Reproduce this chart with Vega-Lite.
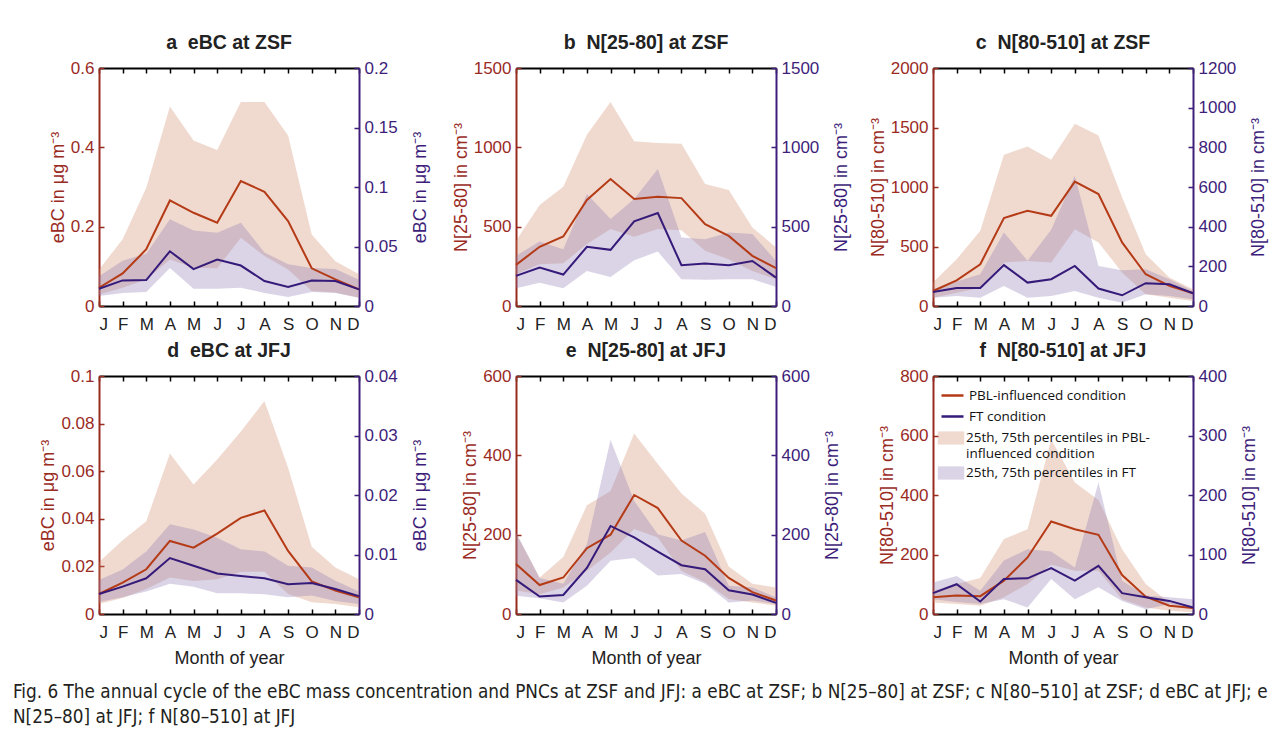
{
"$schema": "https://vega.github.io/schema/vega-lite/v6.json",
"padding": {"left": 12, "top": 32, "right": 5, "bottom": 5},
"config": {
 "font": "Liberation Sans",
 "view": {"stroke": null},
 "axis": {"labelFontSize": 17, "titleFontSize": 18, "titleFontWeight": "normal", "grid": false, "domainWidth": 2, "tickWidth": 1.5, "tickSize": -5, "labelPadding": 10, "titlePadding": 3},
 "axisBottom": {"labelPadding": 15, "titlePadding": 9},
 "axisRight": {"titlePadding": 14},
 "title": {"fontSize": 19.5, "fontWeight": "bold", "color": "#222222", "offset": 6},
 "legend": {"orient": "top-left", "offset": 7, "padding": 0, "labelFont": "Open Sans", "labelFontSize": 13.5, "labelColor": "#111111", "title": null, "rowPadding": 2, "labelLimit": 400, "layout": {"top-left": {"direction": "vertical", "margin": 4}}}
},
"title": {"text": ["Fig. 6  The annual cycle of the eBC mass concentration and PNCs at ZSF and JFJ: a eBC at ZSF; b N[25–80] at ZSF; c N[80–510] at ZSF; d eBC at JFJ; e", "N[25–80] at JFJ; f N[80–510] at JFJ"], "orient": "bottom", "anchor": "start", "frame": "bounds", "font": "DejaVu Sans Condensed", "fontSize": 18.8, "fontWeight": "normal", "color": "#231F20", "dx": -27, "offset": 16, "lineHeight": 25},
"datasets": {
 "a": [
  {"m":1,"p":0.046,"pl":0.029,"ph":0.092,"f":0.0145,"fl":0.0085,"fh":0.025},
  {"m":2,"p":0.082,"pl":0.046,"ph":0.168,"f":0.0215,"fl":0.011,"fh":0.038},
  {"m":3,"p":0.143,"pl":0.067,"ph":0.298,"f":0.0218,"fl":0.0117,"fh":0.044},
  {"m":4,"p":0.266,"pl":0.117,"ph":0.503,"f":0.046,"fl":0.032,"fh":0.073},
  {"m":5,"p":0.235,"pl":0.0965,"ph":0.417,"f":0.031,"fl":0.0145,"fh":0.0635},
  {"m":6,"p":0.21,"pl":0.095,"ph":0.393,"f":0.039,"fl":0.0145,"fh":0.0615},
  {"m":7,"p":0.315,"pl":0.172,"ph":0.514,"f":0.034,"fl":0.0154,"fh":0.07},
  {"m":8,"p":0.288,"pl":0.126,"ph":0.514,"f":0.021,"fl":0.011,"fh":0.045},
  {"m":9,"p":0.214,"pl":0.092,"ph":0.43,"f":0.016,"fl":0.0075,"fh":0.035},
  {"m":10,"p":0.095,"pl":0.038,"ph":0.18,"f":0.0215,"fl":0.0117,"fh":0.032},
  {"m":11,"p":0.067,"pl":0.034,"ph":0.113,"f":0.021,"fl":0.011,"fh":0.031},
  {"m":12,"p":0.042,"pl":0.021,"ph":0.08,"f":0.014,"fl":0.007,"fh":0.022}
 ],
 "b": [
  {"m":1,"p":259,"pl":200,"ph":411,"f":190,"fl":112,"fh":316},
  {"m":2,"p":373,"pl":263,"ph":636,"f":242,"fl":147,"fh":407},
  {"m":3,"p":438,"pl":270,"ph":752,"f":198,"fl":112,"fh":358},
  {"m":4,"p":668,"pl":390,"ph":1079,"f":373,"fl":221,"fh":706},
  {"m":5,"p":800,"pl":485,"ph":1285,"f":354,"fl":183,"fh":548},
  {"m":6,"p":674,"pl":436,"ph":1039,"f":533,"fl":289,"fh":674},
  {"m":7,"p":689,"pl":485,"ph":1028,"f":586,"fl":343,"fh":864},
  {"m":8,"p":680,"pl":478,"ph":1022,"f":257,"fl":169,"fh":432},
  {"m":9,"p":516,"pl":348,"ph":769,"f":268,"fl":166,"fh":421},
  {"m":10,"p":442,"pl":295,"ph":731,"f":257,"fl":169,"fh":463},
  {"m":11,"p":316,"pl":221,"ph":495,"f":284,"fl":169,"fh":453},
  {"m":12,"p":238,"pl":169,"ph":369,"f":179,"fl":120,"fh":284}
 ],
 "c": [
  {"m":1,"p":126,"pl":70,"ph":197,"f":71,"fl":42,"fh":84},
  {"m":2,"p":216,"pl":112,"ph":393,"f":91,"fl":51,"fh":123},
  {"m":3,"p":351,"pl":154,"ph":632,"f":91,"fl":42,"fh":160},
  {"m":4,"p":739,"pl":365,"ph":1272,"f":206,"fl":101,"fh":371},
  {"m":5,"p":801,"pl":379,"ph":1340,"f":118,"fl":42,"fh":228},
  {"m":6,"p":758,"pl":365,"ph":1228,"f":135,"fl":51,"fh":384},
  {"m":7,"p":1045,"pl":646,"ph":1531,"f":202,"fl":76,"fh":657},
  {"m":8,"p":941,"pl":534,"ph":1433,"f":88,"fl":42,"fh":202},
  {"m":9,"p":534,"pl":281,"ph":913,"f":54,"fl":17,"fh":180},
  {"m":10,"p":267,"pl":98,"ph":435,"f":115,"fl":59,"fh":185},
  {"m":11,"p":169,"pl":70,"ph":239,"f":110,"fl":51,"fh":135},
  {"m":12,"p":107,"pl":42,"ph":140,"f":64,"fl":34,"fh":76}
 ],
 "d": [
  {"m":1,"p":0.0084,"pl":0.0042,"ph":0.0219,"f":0.00335,"fl":0.002,"fh":0.0057},
  {"m":2,"p":0.0132,"pl":0.0067,"ph":0.031,"f":0.0046,"fl":0.0028,"fh":0.0075},
  {"m":3,"p":0.0188,"pl":0.0105,"ph":0.039,"f":0.006,"fl":0.0038,"fh":0.0105},
  {"m":4,"p":0.0307,"pl":0.0153,"ph":0.0674,"f":0.0094,"fl":0.0051,"fh":0.0151},
  {"m":5,"p":0.0279,"pl":0.0139,"ph":0.0544,"f":0.0081,"fl":0.0046,"fh":0.0142},
  {"m":6,"p":0.0338,"pl":0.0146,"ph":0.0649,"f":0.0068,"fl":0.0035,"fh":0.0128},
  {"m":7,"p":0.0404,"pl":0.0178,"ph":0.0767,"f":0.0064,"fl":0.0035,"fh":0.0109},
  {"m":8,"p":0.0435,"pl":0.0178,"ph":0.0895,"f":0.006,"fl":0.0033,"fh":0.0105},
  {"m":9,"p":0.0265,"pl":0.0084,"ph":0.0614,"f":0.005,"fl":0.0028,"fh":0.0081},
  {"m":10,"p":0.0137,"pl":0.0049,"ph":0.0283,"f":0.0052,"fl":0.0031,"fh":0.0078},
  {"m":11,"p":0.0098,"pl":0.0042,"ph":0.0195,"f":0.0042,"fl":0.0022,"fh":0.0056},
  {"m":12,"p":0.007,"pl":0.0028,"ph":0.0146,"f":0.003,"fl":0.0017,"fh":0.0038}
 ],
 "e": [
  {"m":1,"p":126,"pl":59,"ph":203,"f":86,"fl":46,"fh":206},
  {"m":2,"p":73,"pl":50,"ph":92,"f":44,"fl":40,"fh":91},
  {"m":3,"p":92,"pl":67,"ph":144,"f":48,"fl":29,"fh":76},
  {"m":4,"p":166,"pl":109,"ph":274,"f":116,"fl":71,"fh":176},
  {"m":5,"p":200,"pl":155,"ph":310,"f":222,"fl":134,"fh":439},
  {"m":6,"p":300,"pl":214,"ph":455,"f":193,"fl":141,"fh":285},
  {"m":7,"p":267,"pl":193,"ph":378,"f":157,"fl":97,"fh":201},
  {"m":8,"p":185,"pl":109,"ph":304,"f":123,"fl":101,"fh":185},
  {"m":9,"p":147,"pl":80,"ph":253,"f":113,"fl":76,"fh":207},
  {"m":10,"p":91,"pl":38,"ph":120,"f":60,"fl":29,"fh":71},
  {"m":11,"p":55,"pl":29,"ph":76,"f":49,"fl":34,"fh":67},
  {"m":12,"p":34,"pl":21,"ph":67,"f":28,"fl":25,"fh":42}
 ],
 "f": [
  {"m":1,"p":56,"pl":39,"ph":78,"f":35,"fl":25,"fh":53},
  {"m":2,"p":62,"pl":34,"ph":101,"f":50,"fl":20,"fh":64},
  {"m":3,"p":60,"pl":28,"ph":121,"f":21,"fl":17,"fh":39},
  {"m":4,"p":112,"pl":56,"ph":252,"f":59,"fl":25,"fh":90},
  {"m":5,"p":190,"pl":101,"ph":285,"f":60,"fl":11,"fh":109},
  {"m":6,"p":311,"pl":166,"ph":587,"f":77,"fl":59,"fh":105},
  {"m":7,"p":285,"pl":145,"ph":442,"f":56,"fl":25,"fh":78},
  {"m":8,"p":266,"pl":145,"ph":383,"f":81,"fl":45,"fh":221},
  {"m":9,"p":131,"pl":50,"ph":218,"f":35,"fl":22,"fh":56},
  {"m":10,"p":58,"pl":22,"ph":101,"f":28,"fl":8,"fh":31},
  {"m":11,"p":28,"pl":11,"ph":39,"f":22,"fl":17,"fh":28},
  {"m":12,"p":20,"pl":6,"ph":22,"f":11,"fl":8,"fh":25}
 ]
},
"bounds": "flush",
"columns": 3,
"spacing": {"row": 70, "column": 157},
"resolve": {"scale": {"color": "independent", "fill": "independent"}},
"concat": [
  {"width": 260, "height": 238, "title": "a\u00a0\u00a0eBC at ZSF", "data": {"name": "a"},
   "layer": [
    {"mark": {"type": "area", "color": "#CD8462", "opacity": 0.3}, "encoding": {
      "x": {"field": "m", "type": "quantitative", "scale": {"domain": [1, 12], "nice": false, "zero": false}, "axis": {"orient": "bottom", "values": [1,2,3,4,5,6,7,8,9,10,11,12], "labelExpr": "['J','F','M','A','M','J','J','A','S','O','N','D'][datum.value-1]", "domainColor": "black", "tickColor": "black", "labelColor": "#222222", "title": null}},
      "y": {"field": "pl", "type": "quantitative", "scale": {"domain": [0, 0.6], "nice": false}, "axis": {"orient": "left", "values": [0, 0.2, 0.4, 0.6], "format": "~r", "domainColor": "#9A2B1F", "tickColor": "#9A2B1F", "labelColor": "#9A2B1F", "titleColor": "#9A2B1F", "title": "eBC in μg m⁻³"}},
      "y2": {"field": "ph"}}},
    {"mark": {"type": "area", "color": "#8470AC", "opacity": 0.3}, "encoding": {
      "x": {"field": "m", "type": "quantitative", "axis": {"orient": "top", "values": [1,2,3,4,5,6,7,8,9,10,11,12], "labels": false, "domainColor": "black", "tickColor": "black", "title": null}},
      "y": {"field": "fl", "type": "quantitative", "scale": {"domain": [0, 0.2], "nice": false}, "axis": {"orient": "right", "values": [0, 0.05, 0.1, 0.15, 0.2], "format": "~r", "domainColor": "#3E1E7A", "tickColor": "#3E1E7A", "labelColor": "#3E1E7A", "titleColor": "#3E1E7A", "titleAngle": 270, "titleBaseline": "top", "title": "eBC in μg m⁻³"}},
      "y2": {"field": "fh"}}},
    {"mark": {"type": "line", "color": "#B53A16", "strokeWidth": 2}, "encoding": {
      "x": {"field": "m", "type": "quantitative", "axis": null},
      "y": {"field": "p", "type": "quantitative", "scale": {"domain": [0, 0.6], "nice": false}, "axis": null}}},
    {"mark": {"type": "line", "color": "#351A7A", "strokeWidth": 2}, "encoding": {
      "x": {"field": "m", "type": "quantitative", "axis": null},
      "y": {"field": "f", "type": "quantitative", "scale": {"domain": [0, 0.2], "nice": false}, "axis": null}}}
   ],
   "resolve": {"scale": {"y": "independent"}, "axis": {"x": "independent"}}},
  {"width": 260, "height": 238, "title": "b\u00a0\u00a0N[25-80] at ZSF", "data": {"name": "b"},
   "layer": [
    {"mark": {"type": "area", "color": "#CD8462", "opacity": 0.3}, "encoding": {
      "x": {"field": "m", "type": "quantitative", "scale": {"domain": [1, 12], "nice": false, "zero": false}, "axis": {"orient": "bottom", "values": [1,2,3,4,5,6,7,8,9,10,11,12], "labelExpr": "['J','F','M','A','M','J','J','A','S','O','N','D'][datum.value-1]", "domainColor": "black", "tickColor": "black", "labelColor": "#222222", "title": null}},
      "y": {"field": "pl", "type": "quantitative", "scale": {"domain": [0, 1500], "nice": false}, "axis": {"orient": "left", "values": [0, 500, 1000, 1500], "format": "~r", "domainColor": "#9A2B1F", "tickColor": "#9A2B1F", "labelColor": "#9A2B1F", "titleColor": "#9A2B1F", "title": "N[25-80] in cm⁻³"}},
      "y2": {"field": "ph"}}},
    {"mark": {"type": "area", "color": "#8470AC", "opacity": 0.3}, "encoding": {
      "x": {"field": "m", "type": "quantitative", "axis": {"orient": "top", "values": [1,2,3,4,5,6,7,8,9,10,11,12], "labels": false, "domainColor": "black", "tickColor": "black", "title": null}},
      "y": {"field": "fl", "type": "quantitative", "scale": {"domain": [0, 1500], "nice": false}, "axis": {"orient": "right", "values": [0, 500, 1000, 1500], "format": "~r", "domainColor": "#3E1E7A", "tickColor": "#3E1E7A", "labelColor": "#3E1E7A", "titleColor": "#3E1E7A", "titleAngle": 270, "titleBaseline": "top", "title": "N[25-80] in cm⁻³"}},
      "y2": {"field": "fh"}}},
    {"mark": {"type": "line", "color": "#B53A16", "strokeWidth": 2}, "encoding": {
      "x": {"field": "m", "type": "quantitative", "axis": null},
      "y": {"field": "p", "type": "quantitative", "scale": {"domain": [0, 1500], "nice": false}, "axis": null}}},
    {"mark": {"type": "line", "color": "#351A7A", "strokeWidth": 2}, "encoding": {
      "x": {"field": "m", "type": "quantitative", "axis": null},
      "y": {"field": "f", "type": "quantitative", "scale": {"domain": [0, 1500], "nice": false}, "axis": null}}}
   ],
   "resolve": {"scale": {"y": "independent"}, "axis": {"x": "independent"}}},
  {"width": 260, "height": 238, "title": "c\u00a0\u00a0N[80-510] at ZSF", "data": {"name": "c"},
   "layer": [
    {"mark": {"type": "area", "color": "#CD8462", "opacity": 0.3}, "encoding": {
      "x": {"field": "m", "type": "quantitative", "scale": {"domain": [1, 12], "nice": false, "zero": false}, "axis": {"orient": "bottom", "values": [1,2,3,4,5,6,7,8,9,10,11,12], "labelExpr": "['J','F','M','A','M','J','J','A','S','O','N','D'][datum.value-1]", "domainColor": "black", "tickColor": "black", "labelColor": "#222222", "title": null}},
      "y": {"field": "pl", "type": "quantitative", "scale": {"domain": [0, 2000], "nice": false}, "axis": {"orient": "left", "values": [0, 500, 1000, 1500, 2000], "format": "~r", "domainColor": "#9A2B1F", "tickColor": "#9A2B1F", "labelColor": "#9A2B1F", "titleColor": "#9A2B1F", "title": "N[80-510] in cm⁻³"}},
      "y2": {"field": "ph"}}},
    {"mark": {"type": "area", "color": "#8470AC", "opacity": 0.3}, "encoding": {
      "x": {"field": "m", "type": "quantitative", "axis": {"orient": "top", "values": [1,2,3,4,5,6,7,8,9,10,11,12], "labels": false, "domainColor": "black", "tickColor": "black", "title": null}},
      "y": {"field": "fl", "type": "quantitative", "scale": {"domain": [0, 1200], "nice": false}, "axis": {"orient": "right", "values": [0, 200, 400, 600, 800, 1000, 1200], "format": "~r", "domainColor": "#3E1E7A", "tickColor": "#3E1E7A", "labelColor": "#3E1E7A", "titleColor": "#3E1E7A", "titleAngle": 270, "titleBaseline": "top", "title": "N[80-510] in cm⁻³"}},
      "y2": {"field": "fh"}}},
    {"mark": {"type": "line", "color": "#B53A16", "strokeWidth": 2}, "encoding": {
      "x": {"field": "m", "type": "quantitative", "axis": null},
      "y": {"field": "p", "type": "quantitative", "scale": {"domain": [0, 2000], "nice": false}, "axis": null}}},
    {"mark": {"type": "line", "color": "#351A7A", "strokeWidth": 2}, "encoding": {
      "x": {"field": "m", "type": "quantitative", "axis": null},
      "y": {"field": "f", "type": "quantitative", "scale": {"domain": [0, 1200], "nice": false}, "axis": null}}}
   ],
   "resolve": {"scale": {"y": "independent"}, "axis": {"x": "independent"}}},
  {"width": 260, "height": 238, "title": "d\u00a0\u00a0eBC at JFJ", "data": {"name": "d"},
   "layer": [
    {"mark": {"type": "area", "color": "#CD8462", "opacity": 0.3}, "encoding": {
      "x": {"field": "m", "type": "quantitative", "scale": {"domain": [1, 12], "nice": false, "zero": false}, "axis": {"orient": "bottom", "values": [1,2,3,4,5,6,7,8,9,10,11,12], "labelExpr": "['J','F','M','A','M','J','J','A','S','O','N','D'][datum.value-1]", "domainColor": "black", "tickColor": "black", "labelColor": "#222222", "titleColor": "#222222", "title": "Month of year"}},
      "y": {"field": "pl", "type": "quantitative", "scale": {"domain": [0, 0.1], "nice": false}, "axis": {"orient": "left", "values": [0, 0.02, 0.04, 0.06, 0.08, 0.1], "format": "~r", "domainColor": "#9A2B1F", "tickColor": "#9A2B1F", "labelColor": "#9A2B1F", "titleColor": "#9A2B1F", "title": "eBC in μg m⁻³"}},
      "y2": {"field": "ph"}}},
    {"mark": {"type": "area", "color": "#8470AC", "opacity": 0.3}, "encoding": {
      "x": {"field": "m", "type": "quantitative", "axis": {"orient": "top", "values": [1,2,3,4,5,6,7,8,9,10,11,12], "labels": false, "domainColor": "black", "tickColor": "black", "title": null}},
      "y": {"field": "fl", "type": "quantitative", "scale": {"domain": [0, 0.04], "nice": false}, "axis": {"orient": "right", "values": [0, 0.01, 0.02, 0.03, 0.04], "format": "~r", "domainColor": "#3E1E7A", "tickColor": "#3E1E7A", "labelColor": "#3E1E7A", "titleColor": "#3E1E7A", "titleAngle": 270, "titleBaseline": "top", "title": "eBC in μg m⁻³"}},
      "y2": {"field": "fh"}}},
    {"mark": {"type": "line", "color": "#B53A16", "strokeWidth": 2}, "encoding": {
      "x": {"field": "m", "type": "quantitative", "axis": null},
      "y": {"field": "p", "type": "quantitative", "scale": {"domain": [0, 0.1], "nice": false}, "axis": null}}},
    {"mark": {"type": "line", "color": "#351A7A", "strokeWidth": 2}, "encoding": {
      "x": {"field": "m", "type": "quantitative", "axis": null},
      "y": {"field": "f", "type": "quantitative", "scale": {"domain": [0, 0.04], "nice": false}, "axis": null}}}
   ],
   "resolve": {"scale": {"y": "independent"}, "axis": {"x": "independent"}}},
  {"width": 260, "height": 238, "title": "e\u00a0\u00a0N[25-80] at JFJ", "data": {"name": "e"},
   "layer": [
    {"mark": {"type": "area", "color": "#CD8462", "opacity": 0.3}, "encoding": {
      "x": {"field": "m", "type": "quantitative", "scale": {"domain": [1, 12], "nice": false, "zero": false}, "axis": {"orient": "bottom", "values": [1,2,3,4,5,6,7,8,9,10,11,12], "labelExpr": "['J','F','M','A','M','J','J','A','S','O','N','D'][datum.value-1]", "domainColor": "black", "tickColor": "black", "labelColor": "#222222", "titleColor": "#222222", "title": "Month of year"}},
      "y": {"field": "pl", "type": "quantitative", "scale": {"domain": [0, 600], "nice": false}, "axis": {"orient": "left", "values": [0, 200, 400, 600], "format": "~r", "domainColor": "#9A2B1F", "tickColor": "#9A2B1F", "labelColor": "#9A2B1F", "titleColor": "#9A2B1F", "title": "N[25-80] in cm⁻³"}},
      "y2": {"field": "ph"}}},
    {"mark": {"type": "area", "color": "#8470AC", "opacity": 0.3}, "encoding": {
      "x": {"field": "m", "type": "quantitative", "axis": {"orient": "top", "values": [1,2,3,4,5,6,7,8,9,10,11,12], "labels": false, "domainColor": "black", "tickColor": "black", "title": null}},
      "y": {"field": "fl", "type": "quantitative", "scale": {"domain": [0, 600], "nice": false}, "axis": {"orient": "right", "values": [0, 200, 400, 600], "format": "~r", "domainColor": "#3E1E7A", "tickColor": "#3E1E7A", "labelColor": "#3E1E7A", "titleColor": "#3E1E7A", "titleAngle": 270, "titleBaseline": "top", "title": "N[25-80] in cm⁻³"}},
      "y2": {"field": "fh"}}},
    {"mark": {"type": "line", "color": "#B53A16", "strokeWidth": 2}, "encoding": {
      "x": {"field": "m", "type": "quantitative", "axis": null},
      "y": {"field": "p", "type": "quantitative", "scale": {"domain": [0, 600], "nice": false}, "axis": null}}},
    {"mark": {"type": "line", "color": "#351A7A", "strokeWidth": 2}, "encoding": {
      "x": {"field": "m", "type": "quantitative", "axis": null},
      "y": {"field": "f", "type": "quantitative", "scale": {"domain": [0, 600], "nice": false}, "axis": null}}}
   ],
   "resolve": {"scale": {"y": "independent"}, "axis": {"x": "independent"}}},
  {"width": 260, "height": 238, "title": "f\u00a0\u00a0N[80-510] at JFJ", "data": {"name": "f"},
   "layer": [
    {"mark": {"type": "line", "opacity": 0}, "encoding": {
      "x": {"field": "m", "type": "quantitative", "axis": null},
      "y": {"field": "p", "type": "quantitative", "scale": {"domain": [0, 800], "nice": false}, "axis": null},
      "color": {"datum": "PBL-influenced condition", "scale": {"domain": ["PBL-influenced condition", "FT condition"], "range": ["#B53A16", "#351A7A"]}, "legend": {"symbolType": "stroke", "symbolSize": 484, "symbolStrokeWidth": 2.5, "symbolOpacity": 1}}}},
    {"mark": {"type": "area", "opacity": 0.3}, "encoding": {
      "x": {"field": "m", "type": "quantitative", "scale": {"domain": [1, 12], "nice": false, "zero": false}, "axis": {"orient": "bottom", "values": [1,2,3,4,5,6,7,8,9,10,11,12], "labelExpr": "['J','F','M','A','M','J','J','A','S','O','N','D'][datum.value-1]", "domainColor": "black", "tickColor": "black", "labelColor": "#222222", "titleColor": "#222222", "title": "Month of year"}},
      "y": {"field": "pl", "type": "quantitative", "scale": {"domain": [0, 800], "nice": false}, "axis": {"orient": "left", "values": [0, 200, 400, 600, 800], "format": "~r", "domainColor": "#9A2B1F", "tickColor": "#9A2B1F", "labelColor": "#9A2B1F", "titleColor": "#9A2B1F", "title": "N[80-510] in cm⁻³"}},
      "y2": {"field": "ph"},
      "fill": {"datum": "25th, 75th percentiles in PBL-|influenced condition", "scale": {"domain": ["25th, 75th percentiles in PBL-|influenced condition", "25th, 75th percentiles in FT"], "range": ["#CD8462", "#8470AC"]}, "legend": {"symbolType": "M-1.2,-0.6H1.2V0.6H-1.2Z", "symbolSize": 484, "symbolOpacity": 0.3, "symbolStrokeWidth": 0, "labelExpr": "split(datum.label, '|')"}}}},
    {"mark": {"type": "area", "opacity": 0.3}, "encoding": {
      "x": {"field": "m", "type": "quantitative", "axis": {"orient": "top", "values": [1,2,3,4,5,6,7,8,9,10,11,12], "labels": false, "domainColor": "black", "tickColor": "black", "title": null}},
      "y": {"field": "fl", "type": "quantitative", "scale": {"domain": [0, 400], "nice": false}, "axis": {"orient": "right", "values": [0, 100, 200, 300, 400], "format": "~r", "domainColor": "#3E1E7A", "tickColor": "#3E1E7A", "labelColor": "#3E1E7A", "titleColor": "#3E1E7A", "titleAngle": 270, "titleBaseline": "top", "title": "N[80-510] in cm⁻³"}},
      "y2": {"field": "fh"},
      "fill": {"datum": "25th, 75th percentiles in FT"}}},
    {"mark": {"type": "line", "strokeWidth": 2}, "encoding": {
      "x": {"field": "m", "type": "quantitative", "axis": null},
      "y": {"field": "p", "type": "quantitative", "scale": {"domain": [0, 800], "nice": false}, "axis": null},
      "color": {"datum": "PBL-influenced condition"}}},
    {"mark": {"type": "line", "strokeWidth": 2}, "encoding": {
      "x": {"field": "m", "type": "quantitative", "axis": null},
      "y": {"field": "f", "type": "quantitative", "scale": {"domain": [0, 400], "nice": false}, "axis": null},
      "color": {"datum": "FT condition"}}}
   ],
   "resolve": {"scale": {"y": "independent"}, "axis": {"x": "independent"}}}
]
}
